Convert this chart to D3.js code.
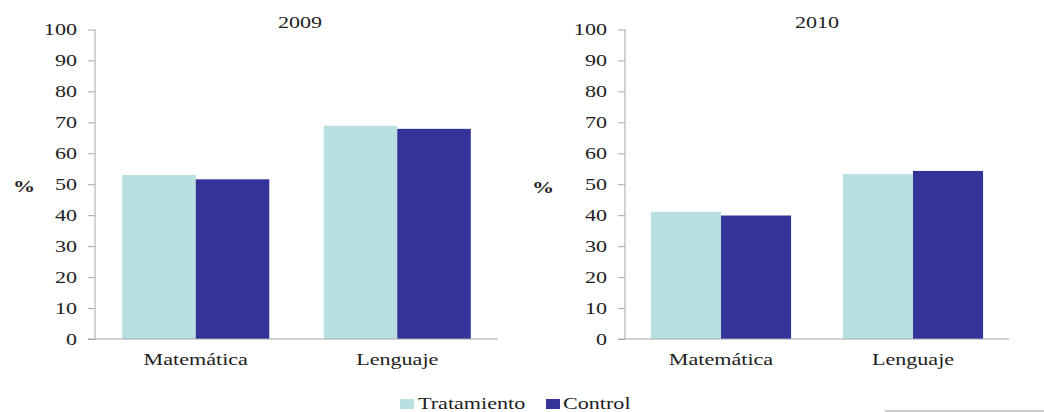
<!DOCTYPE html>
<html>
<head>
<meta charset="utf-8">
<script src="https://cdn.jsdelivr.net/npm/d3@7"></script>
<style>
  html, body { margin: 0; padding: 0; background: #fff; }
  svg { display: block; }
  svg text { font-family: 'Liberation Serif', 'DejaVu Serif', serif; fill: #1e1e1e; }
</style>
</head>
<body>
<svg id="chart" width="1044" height="412"></svg>
<script>
// Porcentaje de logro por asignatura, grupos Tratamiento y Control
const categories = ["Matemática", "Lenguaje"];
const seriesNames = ["Tratamiento", "Control"];
const values2009 = { Tratamiento: [53, 68.9], Control: [51.6, 67.9] };
const values2010 = { Tratamiento: [41.1, 53.3], Control: [39.9, 54.3] };
const yTicks = [0, 10, 20, 30, 40, 50, 60, 70, 80, 90, 100];
const years = ["2009", "2010"];

const colors = { Tratamiento: "#b8dfe2", Control: "#333399" };
const FONT = 16.5;
const SX = 1.34; // horizontal stretch of the lettering
const FAMILY = "'Liberation Serif', 'DejaVu Serif', serif";

const svg = d3.select("#chart");

// draws text stretched horizontally around its anchor point
function stretchedText(g, x, y, str, anchor, extra) {
  const t = g.append("text")
    .attr("transform", `translate(${x},${y}) scale(${SX},1)`)
    .attr("text-anchor", anchor)
    .attr("font-size", FONT)
    .attr("font-family", FAMILY)
    .text(str);
  if (extra) extra(t);
  return t;
}

const panels = [
  { year: years[0], data: values2009, axisX: 95, endX: 498, pctX: 24, pctY: 192, titleX: 300 },
  { year: years[1], data: values2010, axisX: 625, endX: 1009, pctX: 543, pctY: 193, titleX: 817 }
];

const y = d3.scaleLinear().domain([0, 100]).range([339, 29.5]);

panels.forEach(p => {
  const g = svg.append("g");
  const x0 = d3.scaleBand().domain(categories).range([p.axisX, p.endX])
    .paddingInner(0.27).paddingOuter(0.135);
  const x1 = d3.scaleBand().domain(seriesNames).range([0, x0.bandwidth()]);

  // bars
  categories.forEach((c, i) => {
    seriesNames.forEach(s => {
      const v = p.data[s][i];
      g.append("rect")
        .attr("x", x0(c) + x1(s))
        .attr("y", y(v))
        .attr("width", x1.bandwidth())
        .attr("height", y(0) - y(v))
        .attr("fill", colors[s]);
    });
  });

  // y axis
  const yAxis = d3.axisLeft(y).tickValues(yTicks).tickSize(7).tickPadding(11);
  const ya = g.append("g").attr("transform", `translate(${p.axisX},0)`).call(yAxis)
    .attr("font-family", FAMILY);
  ya.selectAll(".tick line").attr("stroke", "#a6a6a6");
  ya.selectAll(".tick text").each(function () {
    const t = d3.select(this);
    const tx = +t.attr("x");
    t.attr("x", 0)
      .attr("transform", `translate(${tx},0) scale(${SX},1)`)
      .attr("font-size", FONT)
      .attr("font-family", FAMILY)
      .attr("fill", "#1e1e1e");
  });
  ya.select(".domain").remove();
  g.append("line")
    .attr("x1", p.axisX).attr("x2", p.axisX)
    .attr("y1", y(100)).attr("y2", y(0))
    .attr("stroke", "#a6a6a6");

  // x axis baseline
  g.append("line")
    .attr("x1", p.axisX - 7).attr("x2", p.endX)
    .attr("y1", y(0)).attr("y2", y(0))
    .attr("stroke", "#a6a6a6");

  // category labels
  categories.forEach(c => {
    stretchedText(g, x0(c) + x0.bandwidth() / 2, 365, c, "middle");
  });

  // title
  stretchedText(g, p.titleX, 28, p.year, "middle");

  // axis label
  stretchedText(g, p.pctX, p.pctY, "%", "middle", t => t.attr("font-weight", "bold"));
});

// legend
const legend = svg.append("g");
const legendItems = [
  { name: seriesNames[0], boxX: 400, textX: 418 },
  { name: seriesNames[1], boxX: 546, textX: 563 }
];
legendItems.forEach(it => {
  legend.append("rect")
    .attr("x", it.boxX).attr("y", 399)
    .attr("width", 14).attr("height", 10)
    .attr("fill", colors[it.name]);
  stretchedText(legend, it.textX, 409, it.name, "start");
});

// faint rule at the lower right edge
svg.append("line")
  .attr("x1", 885).attr("x2", 1044)
  .attr("y1", 411).attr("y2", 411)
  .attr("stroke", "#bdbdbd").attr("stroke-width", 1.5);
</script>
</body>
</html>
